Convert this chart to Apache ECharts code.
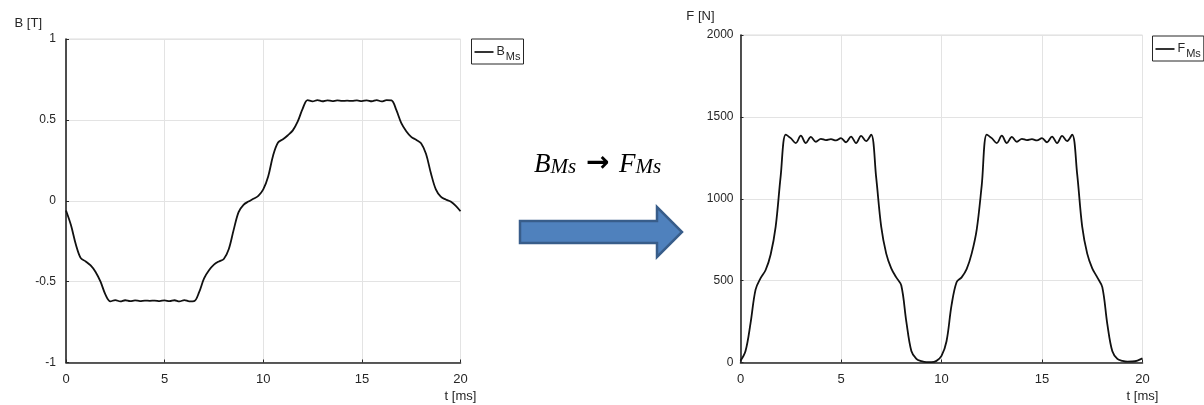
<!DOCTYPE html>
<html>
<head>
<meta charset="utf-8">
<script src="https://cdn.jsdelivr.net/npm/echarts@6/dist/echarts.min.js"></script>
<style>
html,body{margin:0;padding:0;background:#fff;}
#chart{width:1204px;height:405px;}
</style>
</head>
<body>
<div id="chart"></div>
<script>
// time samples [ms]
const timeMs = [
  0, 0.25, 0.5, 0.75, 1, 1.25, 1.5, 1.75, 2, 2.25,
  2.5, 2.75, 3, 3.25, 3.5, 3.75, 4, 4.25, 4.5, 4.75,
  5, 5.25, 5.5, 5.75, 6, 6.25, 6.5, 6.75, 7, 7.25,
  7.5, 7.75, 8, 8.25, 8.5, 8.75, 9, 9.25, 9.5, 9.75,
  10, 10.25, 10.5, 10.75, 11, 11.25, 11.5, 11.75, 12, 12.25,
  12.5, 12.75, 13, 13.25, 13.5, 13.75, 14, 14.25, 14.5, 14.75,
  15, 15.25, 15.5, 15.75, 16, 16.25, 16.5, 16.75, 17, 17.25,
  17.5, 17.75, 18, 18.25, 18.5, 18.75, 19, 19.25, 19.5, 19.75,
  20
];
// B_Ms [T]
const bMs = [
  -0.06, -0.15, -0.27, -0.355, -0.375, -0.40, -0.44, -0.50, -0.58, -0.622,
  -0.614, -0.622, -0.615, -0.621, -0.616, -0.620, -0.617, -0.619, -0.617, -0.620,
  -0.616, -0.621, -0.615, -0.622, -0.614, -0.622, -0.620, -0.565, -0.48, -0.43,
  -0.395, -0.375, -0.36, -0.30, -0.18, -0.07, -0.025, -0.005, 0.012, 0.03,
  0.07, 0.15, 0.28, 0.36, 0.38, 0.405, 0.435, 0.49, 0.57, 0.622,
  0.614, 0.622, 0.615, 0.621, 0.616, 0.620, 0.617, 0.619, 0.617, 0.620,
  0.616, 0.621, 0.615, 0.622, 0.614, 0.622, 0.620, 0.56, 0.48, 0.43,
  0.395, 0.377, 0.355, 0.29, 0.17, 0.07, 0.025, 0.008, -0.005, -0.03,
  -0.065
];
// F_Ms [N]
const fMs = [
  10, 70, 240, 445, 515, 565, 660, 830, 1140, 1392,
  1370, 1340, 1385, 1340, 1378, 1348, 1366, 1358, 1364, 1356,
  1370, 1345, 1380, 1340, 1384, 1352, 1392, 1130, 830, 665,
  575, 520, 470, 250, 70, 22, 8, 2, 2, 10,
  40, 130, 350, 490, 520, 570, 665, 810, 1080, 1392,
  1370, 1340, 1385, 1340, 1378, 1348, 1366, 1358, 1364, 1356,
  1370, 1345, 1380, 1340, 1384, 1352, 1392, 1150, 830, 665,
  575, 520, 460, 235, 68, 22, 10, 5, 6, 12,
  25
];
const xTicks = {min: 0, max: 20, interval: 5};
const bTicks = {min: -1, max: 1, interval: 0.5};
const fTicks = {min: 0, max: 2000, interval: 500};

const pairs = (ys) => timeMs.map((t, i) => [t, ys[i]]);

const TXT = '#262626';
const GRID = '#e3e3e3';
const FONT = 'Liberation Sans, Arial, sans-serif';
const SERIF = 'Liberation Serif, Times New Roman, serif';

function xAxisCfg(gi) {
  return {
    type: 'value', gridIndex: gi, min: xTicks.min, max: xTicks.max, interval: xTicks.interval,
    name: 't [ms]', nameLocation: 'end', nameGap: 0,
    nameTextStyle: {color: TXT, fontSize: 13, fontFamily: FONT, align: 'center', verticalAlign: 'top', padding: [27, 0, 0, 0]},
    axisLine: {show: true, onZero: false, lineStyle: {color: TXT, width: 1.6}},
    axisTick: {show: true, inside: true, length: 3, lineStyle: {color: TXT}},
    axisLabel: {color: TXT, fontSize: 13, fontFamily: FONT, margin: 10},
    splitLine: {show: true, lineStyle: {color: GRID, width: 1}}
  };
}
function yAxisCfg(gi, ticks, name, pr, gap, margin) {
  return {
    type: 'value', gridIndex: gi, min: ticks.min, max: ticks.max, interval: ticks.interval,
    name: name, nameLocation: 'end', nameGap: gap,
    nameTextStyle: {color: TXT, fontSize: 13, fontFamily: FONT, align: 'right', padding: [0, pr, 0, 0]},
    axisLine: {show: true, onZero: false, lineStyle: {color: TXT, width: 1.6}},
    axisTick: {show: true, inside: true, length: 3, lineStyle: {color: TXT}},
    axisLabel: {color: TXT, fontSize: 12, fontFamily: FONT, margin: margin, formatter: (v) => String(v)},
    splitLine: {show: true, lineStyle: {color: GRID, width: 1}}
  };
}
function legendCfg(name, left, top, letter) {
  return {
    data: [name], left: left, top: top, orient: 'vertical',
    borderColor: TXT, borderWidth: 1, padding: [3, 3, 2, 3],
    backgroundColor: '#fff',
    icon: 'rect', itemWidth: 19, itemHeight: 1.6, itemGap: 0,
    formatter: () => '{m|' + letter + '}{s|Ms}',
    textStyle: {
      color: TXT, fontFamily: FONT, padding: [0, 0, 0, -2],
      rich: {
        m: {fontSize: 12.5, fontFamily: FONT, color: TXT, lineHeight: 14, verticalAlign: 'top'},
        s: {fontSize: 11, fontFamily: FONT, color: TXT, lineHeight: 14, padding: [9, 0, 0, 1]}
      }
    }
  };
}

const chart = echarts.init(document.getElementById('chart'), null, {renderer: 'canvas'});
chart.setOption({
  animation: false,
  backgroundColor: '#fff',
  grid: [
    {left: 66, top: 39, width: 394.5, height: 323.5, show: true, borderColor: '#dcdcdc', borderWidth: 1, backgroundColor: '#fff'},
    {left: 740.5, top: 35, width: 402, height: 327.5, show: true, borderColor: '#dcdcdc', borderWidth: 1, backgroundColor: '#fff'}
  ],
  xAxis: [xAxisCfg(0), xAxisCfg(1)],
  yAxis: [yAxisCfg(0, bTicks, 'B [T]', 24, 9, 10), yAxisCfg(1, fTicks, 'F [N]', 26, 12, 7)],
  legend: [legendCfg('B_Ms', 471.5, 39, 'B'), legendCfg('F_Ms', 1152.5, 36, 'F')],
  series: [
    {name: 'B_Ms', type: 'line', xAxisIndex: 0, yAxisIndex: 0, data: pairs(bMs),
     showSymbol: false, symbol: 'none', smooth: 0.35, color: '#000',
     lineStyle: {color: '#111', width: 1.8}},
    {name: 'F_Ms', type: 'line', xAxisIndex: 1, yAxisIndex: 1, data: pairs(fMs),
     showSymbol: false, symbol: 'none', smooth: 0.35, color: '#000',
     lineStyle: {color: '#111', width: 1.8}}
  ],
  graphic: [
    {
      type: 'polygon',
      shape: {points: [[520, 221], [657, 221], [657, 207], [682, 232], [657, 257], [657, 243], [520, 243]]},
      style: {fill: '#4f81bd', stroke: '#385d8a', lineWidth: 2.5}
    },
    {
      type: 'text', left: 534, top: 150,
      style: {
        text: '{i|B}{s|Ms}{a| → }{i|F}{s|Ms}',
        rich: {
          i: {fontFamily: SERIF, fontStyle: 'italic', fontSize: 27, color: '#000', lineHeight: 28, verticalAlign: 'bottom'},
          s: {fontFamily: SERIF, fontStyle: 'italic', fontSize: 21, color: '#000', lineHeight: 22, verticalAlign: 'bottom'},
          a: {fontFamily: 'DejaVu Sans, sans-serif', fontWeight: 'bold', fontSize: 28, color: '#000', lineHeight: 30, verticalAlign: 'bottom'}
        }
      }
    }
  ]
});
</script>
</body>
</html>
